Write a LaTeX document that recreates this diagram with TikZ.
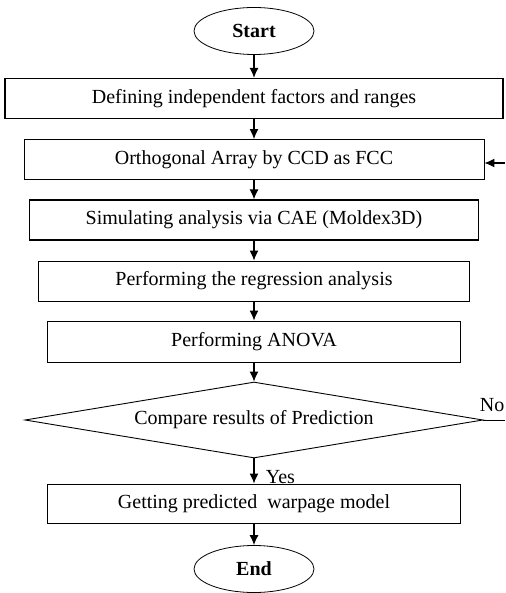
\documentclass[tikz,border=0pt]{standalone}
\usepackage{fontspec}
\setmainfont{Liberation Serif}
\usetikzlibrary{shapes.geometric,arrows.meta}

\tikzset{
  stepbox/.style={draw,rectangle,minimum height=40pt,inner sep=0pt,line width=0.9pt},
  termbox/.style={draw,ellipse,minimum width=120pt,minimum height=47pt,inner sep=0pt,line width=0.8pt,font=\fontsize{20}{22}\selectfont\bfseries},
  decbox/.style={draw,diamond,aspect=6,minimum width=458pt,minimum height=76pt,inner sep=0pt,line width=0.9pt},
  flow/.style={-{Latex[length=10pt,width=9pt]},line width=1.1pt}
}

\begin{document}
\begin{tikzpicture}
  [x=1pt,y=-1pt,font=\fontsize{20}{22}\selectfont]
  \useasboundingbox (0,0) rectangle (505,593);
  \node[termbox] (start) at (254,31) {Start};
  \node[stepbox,minimum width=498pt,line width=1.3pt] (defn) at (254,98.5) {Defining independent factors and ranges};
  \node[stepbox,minimum width=460pt] (ortho) at (254,159.5) {Orthogonal Array by CCD as FCC};
  \node[stepbox,minimum width=449pt,line width=1.3pt] (simu) at (254,220) {Simulating analysis via CAE (Moldex3D)};
  \node[stepbox,minimum width=431pt] (regr) at (254,281) {Performing the regression analysis};
  \node[stepbox,minimum width=413pt,minimum height=41pt] (anova) at (254,341.5) {Performing ANOVA};
  \node[decbox] (comp) at (254,420) {Compare results of Prediction};
  \node[stepbox,minimum width=413pt,minimum height=39pt] (model) at (254,503.5) {Getting predicted\ \ warpage model};
  \node[termbox] (end) at (254,569) {End};
  \coordinate (noout) at (505,420);
  \coordinate (noin) at (505,163);

  \foreach \from/\to in {start/defn,defn/ortho,ortho/simu,simu/regr,regr/anova,anova/comp,model/end}
    \draw[flow] (\from) -- (\to);
  \draw[flow] (comp) -- node[right,xshift=8pt,yshift=-6pt] {Yes} (model);
  \draw[line width=1pt] (comp.east) -- node[above,pos=0.4,yshift=4pt] {No} (noout);
  \draw[flow] (noin) -- (ortho.east |- noin);
\end{tikzpicture}
\end{document}
